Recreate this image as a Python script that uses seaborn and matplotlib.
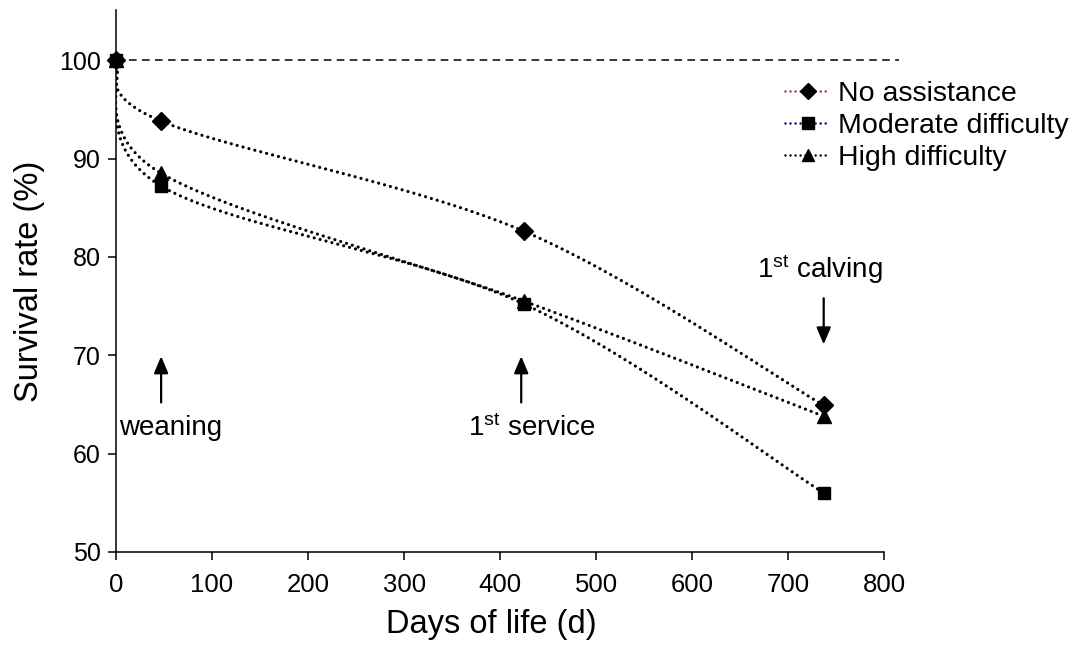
import numpy as np
import pandas as pd
import matplotlib
matplotlib.use("Agg")
import matplotlib.pyplot as plt
from matplotlib.lines import Line2D
import seaborn as sns

# ---- data ----
days = [0, 47, 425, 737]
no_assistance = [100, 93.8, 82.6, 64.9]
moderate_difficulty = [100, 87.2, 75.2, 56.0]
high_difficulty = [100, 88.5, 75.5, 63.8]
series_names = ["No assistance", "Moderate difficulty", "High difficulty"]
x_ticks = [0, 100, 200, 300, 400, 500, 600, 700, 800]
y_ticks = [50, 60, 70, 80, 90, 100]

sns.set_theme(style="ticks")
plt.rcParams["font.family"] = ["Liberation Sans", "DejaVu Sans"]
plt.rcParams["mathtext.fontset"] = "custom"
plt.rcParams["mathtext.rm"] = "Liberation Sans"
plt.rcParams["mathtext.it"] = "Liberation Sans"
plt.rcParams["mathtext.bf"] = "Liberation Sans"
for k in ["text.color", "axes.labelcolor", "xtick.color", "ytick.color", "axes.edgecolor"]:
    plt.rcParams[k] = "black"


def smooth_curve(xs, ys, n=80):
    """Excel-like smoothed line: Catmull-Rom Bezier through the points."""
    P = np.column_stack([xs, ys]).astype(float)
    out = []
    for i in range(len(P) - 1):
        p0 = P[i - 1] if i > 0 else P[i]
        p1 = P[i]
        p2 = P[i + 1]
        p3 = P[i + 2] if i + 2 < len(P) else P[i + 1]
        c1 = p1 + (p2 - p0) / 6.0
        c2 = p2 - (p3 - p1) / 6.0
        t = np.linspace(0, 1, n)[:, None]
        seg = ((1 - t) ** 3) * p1 + 3 * ((1 - t) ** 2) * t * c1 + 3 * (1 - t) * t ** 2 * c2 + t ** 3 * p2
        out.append(seg if i == 0 else seg[1:])
    seg = np.vstack(out)
    return seg[:, 0], seg[:, 1]


fig = plt.figure(figsize=(10.79, 6.45), dpi=100)
ax = fig.add_axes([0.1075, 0.1442, 0.7253, 0.8403])

ax.axhline(100, color="black", lw=1.1, ls=(0, (5, 3.5)), zorder=1)

series = [no_assistance, moderate_difficulty, high_difficulty]
markers = ["D", "s", "^"]
msizes = [9, 9, 10]
legend_colors = ["#993366", "#000080", "#000000"]

for name, vals, mk, ms in zip(series_names, series, markers, msizes):
    sx, sy = smooth_curve(days, vals)
    sns.lineplot(x=sx, y=sy, ax=ax, sort=False, estimator=None, color="black",
                 lw=2.3, ls=(0, (0.01, 1.9)), dash_capstyle="round", zorder=2)
for name, vals, mk, ms in zip(series_names, series, markers, msizes):
    ax.plot(days, vals, ls="none", marker=mk, ms=ms, color="black", zorder=3, clip_on=False)

ax.set_xlim(0, 815)
ax.set_ylim(50, 105.1)
ax.set_xticks(x_ticks)
ax.set_yticks(y_ticks)
ax.spines["bottom"].set_bounds(0, 800)
sns.despine(ax=ax)
for s in ["left", "bottom"]:
    ax.spines[s].set_linewidth(1.1)
    ax.spines[s].set_color("black")
ax.tick_params(axis="both", direction="out", length=6, width=1.1, colors="black",
               labelsize=18, pad=5)
ax.tick_params(axis="x", pad=9, labelsize=18.5)

ax.set_xlabel("Days of life (d)", fontsize=23.5, labelpad=8)
ax.xaxis.set_label_coords(0.48, -0.105)
ax.set_ylabel("Survival rate (%)", fontsize=23.5, labelpad=10)

# annotations
arrow_kw = dict(arrowstyle="-|>,head_length=0.85,head_width=0.36", mutation_scale=12,
                color="black", lw=1.6, shrinkA=0, shrinkB=0)
ax.annotate("", xy=(47, 69.9), xytext=(47, 65.2), arrowprops=arrow_kw)
ax.annotate("", xy=(422, 69.9), xytext=(422, 65.2), arrowprops=arrow_kw)
ax.annotate("", xy=(737, 71.1), xytext=(737, 75.8), arrowprops=arrow_kw)
ax.text(57, 62.6, "weaning", fontsize=20, ha="center", va="center")
ax.text(433, 62.6, r"1$^{\rm st}$ service", fontsize=20, ha="center", va="center")
ax.text(733, 78.8, r"1$^{\rm st}$ calving", fontsize=20, ha="center", va="center")

handles = [Line2D([], [], color=c, ls=(0, (0.01, 2.0)), lw=1.8, dash_capstyle="round",
                  marker=m, ms=ms * 0.9, markerfacecolor="black", markeredgecolor="black")
           for c, m, ms in zip(legend_colors, markers, msizes)]
leg = fig.legend(handles, series_names, loc="upper right", bbox_to_anchor=(1.009, 0.905),
                 frameon=False, fontsize=20.5, handlelength=1.55, handletextpad=0.3,
                 labelspacing=0.2, borderaxespad=0.3)

fig.savefig("out.png", dpi=100)
